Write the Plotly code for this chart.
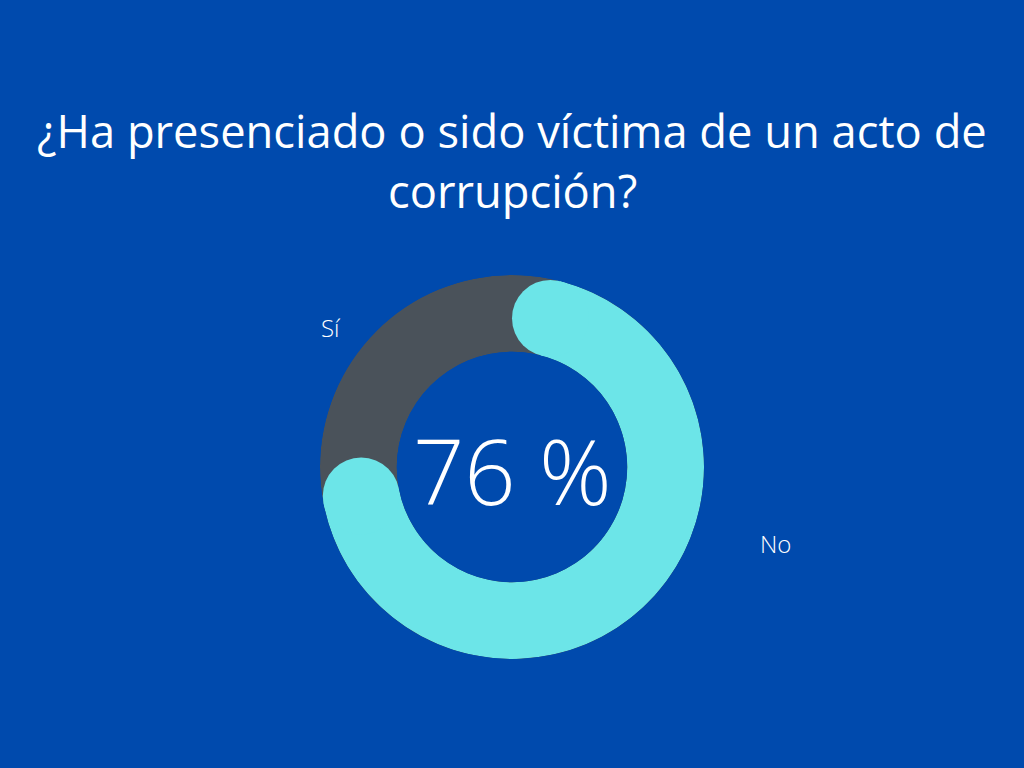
import math
import plotly.graph_objects as go

categories = ["Sí", "No"]
values = [24, 76]
center_label = "76 %"
title_lines = ["¿Ha presenciado o sido víctima de un acto de", "corrupción?"]

BG = "#004AAD"
GRAY = "#4A525A"
CYAN = "#6CE5E8"
HOLE = 0.6

total = sum(values)
span = 360.0 * values[1] / total
ring_mid = (1 + HOLE) / 2
cap_half = math.degrees(math.asin(((1 - HOLE) / 2) / ring_mid))

R_PX = 192
dom_x = [320 / 1024, 704 / 1024]
dom_y = [109 / 768, 493 / 768]

fig = go.Figure()
fig.add_trace(go.Barpolar(r=[1], theta=[180], width=[360], base=0,
                          marker=dict(color=GRAY, line=dict(width=0)),
                          hoverinfo="skip", showlegend=False))
fig.add_trace(go.Barpolar(r=[1], theta=[span / 2], width=[span - 2 * cap_half], base=0,
                          marker=dict(color=CYAN, line=dict(width=0)),
                          hoverinfo="skip", showlegend=False))
fig.add_trace(go.Scatterpolar(r=[0.5, 0.5], theta=[cap_half, span - cap_half],
                              mode="markers",
                              marker=dict(color=CYAN, size=(1 - HOLE) * R_PX, line=dict(width=0)),
                              hoverinfo="skip", showlegend=False))

fig.update_layout(
    width=1024, height=768,
    paper_bgcolor=BG, plot_bgcolor=BG,
    margin=dict(l=0, r=0, t=0, b=0),
    polar=dict(
        domain=dict(x=dom_x, y=dom_y),
        hole=HOLE,
        bgcolor="rgba(0,0,0,0)",
        radialaxis=dict(range=[0, 1], visible=False, showgrid=False),
        angularaxis=dict(rotation=90, direction="clockwise", visible=False, showgrid=False),
    ),
    showlegend=False,
)

font_family = "Open Sans"


def label(x_px, y_px, text, size, weight=400):
    fig.add_annotation(x=x_px / 1024, y=1 - y_px / 768, xref="paper", yref="paper",
                       xanchor="center", yanchor="middle",
                       text=text, showarrow=False,
                       font=dict(family=font_family, size=size, color="white", weight=weight))


label(512, 130, title_lines[0], 45.3)
label(512, 190, title_lines[1], 45.3)
label(512, 470, center_label, 90, 300)
label(331, 328, categories[0], 24, 300)
label(775, 543, categories[1], 24, 300)

fig.write_html("out.html", config={"displayModeBar": False},
               post_script="document.body.style.margin='0';document.body.style.overflow='hidden';")
